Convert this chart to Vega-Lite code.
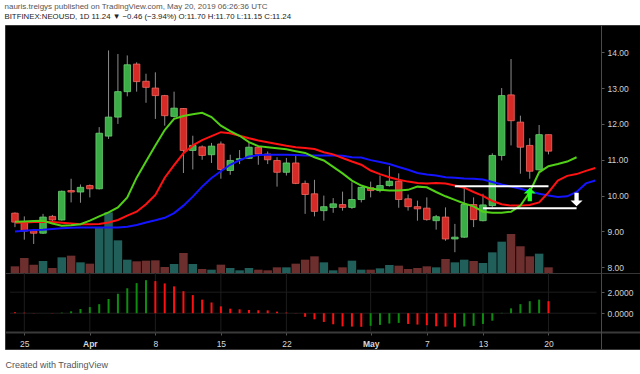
{
  "$schema": "https://vega.github.io/schema/vega-lite/v6.json",
  "background": "#ffffff",
  "padding": {"left": 4, "top": 2, "right": 0, "bottom": 0},
  "title": {
    "text": "nauris.treigys published on TradingView.com, May 20, 2019 06:26:36 UTC",
    "subtitle": "BITFINEX:NEOUSD, 1D 11.24 ▼ −0.46 (−3.94%) O:11.70 H:11.70 L:11.15 C:11.24",
    "anchor": "start",
    "font": "Liberation Sans",
    "fontSize": 8,
    "fontWeight": "normal",
    "color": "#555555",
    "subtitleFont": "Liberation Sans",
    "subtitleFontSize": 7.8,
    "subtitleFontWeight": "normal",
    "subtitleColor": "#222222",
    "subtitlePadding": 2,
    "offset": 4
  },
  "datasets": {
    "candles": [
      {"date":"2019-03-24","o":9.51,"h":9.53,"l":9.12,"c":9.26,"v":20000,"ao":0.09},
      {"date":"2019-03-25","o":9.26,"h":9.42,"l":8.77,"c":9.01,"v":45000,"ao":0.05},
      {"date":"2019-03-26","o":9.02,"h":9.03,"l":8.65,"c":8.95,"v":25000,"ao":0.02},
      {"date":"2019-03-27","o":8.95,"h":9.49,"l":8.93,"c":9.40,"v":36000,"ao":0.0},
      {"date":"2019-03-28","o":9.42,"h":9.46,"l":9.27,"c":9.32,"v":15000,"ao":-0.02},
      {"date":"2019-03-29","o":9.32,"h":10.14,"l":9.30,"c":10.12,"v":47000,"ao":0.05},
      {"date":"2019-03-30","o":10.14,"h":10.47,"l":9.81,"c":10.10,"v":52000,"ao":0.18},
      {"date":"2019-03-31","o":10.10,"h":10.31,"l":9.80,"c":10.23,"v":32000,"ao":0.40},
      {"date":"2019-04-01","o":10.28,"h":10.31,"l":9.95,"c":10.19,"v":28000,"ao":0.58},
      {"date":"2019-04-02","o":10.19,"h":11.91,"l":10.17,"c":11.74,"v":138000,"ao":0.86},
      {"date":"2019-04-03","o":11.66,"h":14.05,"l":11.58,"c":12.19,"v":182000,"ao":1.35},
      {"date":"2019-04-04","o":12.19,"h":13.95,"l":12.00,"c":12.90,"v":98000,"ao":1.85},
      {"date":"2019-04-05","o":12.90,"h":13.91,"l":12.77,"c":13.65,"v":40000,"ao":2.37},
      {"date":"2019-04-06","o":13.67,"h":13.72,"l":12.90,"c":13.18,"v":35000,"ao":2.86},
      {"date":"2019-04-07","o":13.19,"h":13.40,"l":12.59,"c":13.02,"v":37000,"ao":3.14},
      {"date":"2019-04-08","o":13.00,"h":13.44,"l":12.14,"c":12.79,"v":38000,"ao":3.05},
      {"date":"2019-04-09","o":12.79,"h":12.81,"l":11.95,"c":12.23,"v":18000,"ao":2.83},
      {"date":"2019-04-10","o":12.21,"h":12.90,"l":12.18,"c":12.44,"v":27000,"ao":2.55},
      {"date":"2019-04-11","o":12.43,"h":12.44,"l":10.63,"c":11.26,"v":60000,"ao":2.09},
      {"date":"2019-04-12","o":11.26,"h":11.67,"l":10.73,"c":11.40,"v":27000,"ao":1.72},
      {"date":"2019-04-13","o":11.36,"h":11.40,"l":11.00,"c":11.12,"v":12000,"ao":1.29},
      {"date":"2019-04-14","o":11.14,"h":11.47,"l":10.91,"c":11.38,"v":10000,"ao":1.02},
      {"date":"2019-04-15","o":11.44,"h":11.51,"l":10.47,"c":10.73,"v":25000,"ao":0.65},
      {"date":"2019-04-16","o":10.70,"h":11.14,"l":10.58,"c":10.98,"v":15000,"ao":0.43},
      {"date":"2019-04-17","o":11.00,"h":11.27,"l":10.88,"c":11.03,"v":8000,"ao":0.37},
      {"date":"2019-04-18","o":11.04,"h":11.49,"l":11.02,"c":11.35,"v":15000,"ao":0.31},
      {"date":"2019-04-19","o":11.35,"h":11.38,"l":10.86,"c":11.16,"v":10000,"ao":0.28},
      {"date":"2019-04-20","o":11.16,"h":11.23,"l":10.88,"c":11.00,"v":8000,"ao":0.27},
      {"date":"2019-04-21","o":10.98,"h":11.07,"l":10.25,"c":10.65,"v":17000,"ao":0.15},
      {"date":"2019-04-22","o":10.65,"h":11.05,"l":10.56,"c":10.91,"v":17000,"ao":0.06},
      {"date":"2019-04-23","o":10.91,"h":11.16,"l":10.32,"c":10.34,"v":28000,"ao":0.02},
      {"date":"2019-04-24","o":10.34,"h":10.42,"l":9.49,"c":10.03,"v":40000,"ao":-0.34},
      {"date":"2019-04-25","o":10.05,"h":10.44,"l":9.42,"c":9.56,"v":50000,"ao":-0.58},
      {"date":"2019-04-26","o":9.58,"h":10.00,"l":9.30,"c":9.69,"v":32000,"ao":-0.83},
      {"date":"2019-04-27","o":9.67,"h":9.93,"l":9.52,"c":9.77,"v":8000,"ao":-1.05},
      {"date":"2019-04-28","o":9.75,"h":10.11,"l":9.58,"c":9.67,"v":17000,"ao":-1.25},
      {"date":"2019-04-29","o":9.67,"h":10.37,"l":9.63,"c":9.89,"v":37000,"ao":-1.27},
      {"date":"2019-04-30","o":9.89,"h":10.24,"l":9.81,"c":10.23,"v":10000,"ao":-1.29},
      {"date":"2019-05-01","o":10.22,"h":10.39,"l":9.95,"c":10.14,"v":10000,"ao":-1.20},
      {"date":"2019-05-02","o":10.14,"h":10.56,"l":10.09,"c":10.28,"v":14000,"ao":-1.11},
      {"date":"2019-05-03","o":10.28,"h":10.82,"l":10.25,"c":10.40,"v":24000,"ao":-0.98},
      {"date":"2019-05-04","o":10.40,"h":10.62,"l":9.66,"c":9.89,"v":22000,"ao":-0.92},
      {"date":"2019-05-05","o":9.91,"h":10.03,"l":9.58,"c":9.69,"v":12000,"ao":-1.02},
      {"date":"2019-05-06","o":9.69,"h":9.86,"l":9.30,"c":9.63,"v":15000,"ao":-1.08},
      {"date":"2019-05-07","o":9.65,"h":9.95,"l":9.30,"c":9.33,"v":20000,"ao":-1.14},
      {"date":"2019-05-08","o":9.30,"h":9.46,"l":9.05,"c":9.41,"v":17000,"ao":-1.24},
      {"date":"2019-05-09","o":9.40,"h":9.67,"l":8.74,"c":8.79,"v":42000,"ao":-1.27},
      {"date":"2019-05-10","o":8.79,"h":9.21,"l":8.42,"c":8.84,"v":32000,"ao":-1.35},
      {"date":"2019-05-11","o":8.84,"h":10.23,"l":8.82,"c":9.75,"v":40000,"ao":-1.26},
      {"date":"2019-05-12","o":9.75,"h":9.95,"l":9.12,"c":9.33,"v":36000,"ao":-1.20},
      {"date":"2019-05-13","o":9.30,"h":10.05,"l":9.28,"c":9.74,"v":30000,"ao":-1.02},
      {"date":"2019-05-14","o":9.72,"h":11.18,"l":9.67,"c":11.12,"v":62000,"ao":-0.71},
      {"date":"2019-05-15","o":11.12,"h":13.00,"l":10.98,"c":12.79,"v":94000,"ao":0.03},
      {"date":"2019-05-16","o":12.81,"h":13.81,"l":11.40,"c":12.09,"v":117000,"ao":0.46},
      {"date":"2019-05-17","o":12.05,"h":12.23,"l":10.61,"c":11.35,"v":80000,"ao":0.86},
      {"date":"2019-05-18","o":11.40,"h":11.60,"l":10.47,"c":10.68,"v":50000,"ao":1.14},
      {"date":"2019-05-19","o":10.72,"h":11.97,"l":10.70,"c":11.70,"v":58000,"ao":1.29},
      {"date":"2019-05-20","o":11.70,"h":11.70,"l":11.15,"c":11.24,"v":17000,"ao":1.14}
    ],
    "ma": [
      {"date":"2019-03-24","v":9.00,"s":"j"},{"date":"2019-03-25","v":9.02,"s":"j"},{"date":"2019-03-26","v":9.04,"s":"j"},{"date":"2019-03-27","v":9.05,"s":"j"},{"date":"2019-03-28","v":9.07,"s":"j"},{"date":"2019-03-29","v":9.09,"s":"j"},{"date":"2019-03-30","v":9.10,"s":"j"},{"date":"2019-03-31","v":9.11,"s":"j"},{"date":"2019-04-01","v":9.11,"s":"j"},{"date":"2019-04-02","v":9.11,"s":"j"},{"date":"2019-04-03","v":9.11,"s":"j"},{"date":"2019-04-04","v":9.11,"s":"j"},{"date":"2019-04-05","v":9.13,"s":"j"},{"date":"2019-04-06","v":9.18,"s":"j"},{"date":"2019-04-07","v":9.25,"s":"j"},{"date":"2019-04-08","v":9.31,"s":"j"},{"date":"2019-04-09","v":9.38,"s":"j"},{"date":"2019-04-10","v":9.51,"s":"j"},{"date":"2019-04-11","v":9.72,"s":"j"},{"date":"2019-04-12","v":9.97,"s":"j"},{"date":"2019-04-13","v":10.25,"s":"j"},{"date":"2019-04-14","v":10.49,"s":"j"},{"date":"2019-04-15","v":10.68,"s":"j"},{"date":"2019-04-16","v":10.86,"s":"j"},{"date":"2019-04-17","v":10.99,"s":"j"},{"date":"2019-04-18","v":11.09,"s":"j"},{"date":"2019-04-19","v":11.13,"s":"j"},{"date":"2019-04-20","v":11.14,"s":"j"},{"date":"2019-04-21","v":11.14,"s":"j"},{"date":"2019-04-22","v":11.14,"s":"j"},{"date":"2019-04-23","v":11.13,"s":"j"},{"date":"2019-04-24","v":11.12,"s":"j"},{"date":"2019-04-25","v":11.12,"s":"j"},{"date":"2019-04-26","v":11.12,"s":"j"},{"date":"2019-04-27","v":11.12,"s":"j"},{"date":"2019-04-28","v":11.11,"s":"j"},{"date":"2019-04-29","v":11.07,"s":"j"},{"date":"2019-04-30","v":11.06,"s":"j"},{"date":"2019-05-01","v":10.99,"s":"j"},{"date":"2019-05-02","v":10.94,"s":"j"},{"date":"2019-05-03","v":10.88,"s":"j"},{"date":"2019-05-04","v":10.80,"s":"j"},{"date":"2019-05-05","v":10.72,"s":"j"},{"date":"2019-05-06","v":10.63,"s":"j"},{"date":"2019-05-07","v":10.59,"s":"j"},{"date":"2019-05-08","v":10.56,"s":"j"},{"date":"2019-05-09","v":10.51,"s":"j"},{"date":"2019-05-10","v":10.50,"s":"j"},{"date":"2019-05-11","v":10.48,"s":"j"},{"date":"2019-05-12","v":10.47,"s":"j"},{"date":"2019-05-13","v":10.45,"s":"j"},{"date":"2019-05-14","v":10.38,"s":"j"},{"date":"2019-05-15","v":10.31,"s":"j"},{"date":"2019-05-16","v":10.25,"s":"j"},{"date":"2019-05-17","v":10.19,"s":"j"},{"date":"2019-05-18","v":10.12,"s":"j"},{"date":"2019-05-19","v":10.05,"s":"j"},{"date":"2019-05-20","v":10.00,"s":"j"},{"date":"2019-05-21","v":9.96,"s":"j"},{"date":"2019-05-22","v":9.98,"s":"j"},{"date":"2019-05-23","v":10.10,"s":"j"},{"date":"2019-05-24","v":10.34,"s":"j"},{"date":"2019-05-25","v":10.42,"s":"j"},
      {"date":"2019-03-24","v":9.24,"s":"t"},{"date":"2019-03-25","v":9.25,"s":"t"},{"date":"2019-03-26","v":9.26,"s":"t"},{"date":"2019-03-27","v":9.27,"s":"t"},{"date":"2019-03-28","v":9.26,"s":"t"},{"date":"2019-03-29","v":9.24,"s":"t"},{"date":"2019-03-30","v":9.22,"s":"t"},{"date":"2019-03-31","v":9.20,"s":"t"},{"date":"2019-04-01","v":9.20,"s":"t"},{"date":"2019-04-02","v":9.21,"s":"t"},{"date":"2019-04-03","v":9.25,"s":"t"},{"date":"2019-04-04","v":9.32,"s":"t"},{"date":"2019-04-05","v":9.44,"s":"t"},{"date":"2019-04-06","v":9.55,"s":"t"},{"date":"2019-04-07","v":9.76,"s":"t"},{"date":"2019-04-08","v":10.02,"s":"t"},{"date":"2019-04-09","v":10.50,"s":"t"},{"date":"2019-04-10","v":10.85,"s":"t"},{"date":"2019-04-11","v":11.18,"s":"t"},{"date":"2019-04-12","v":11.40,"s":"t"},{"date":"2019-04-13","v":11.55,"s":"t"},{"date":"2019-04-14","v":11.66,"s":"t"},{"date":"2019-04-15","v":11.77,"s":"t"},{"date":"2019-04-16","v":11.74,"s":"t"},{"date":"2019-04-17","v":11.67,"s":"t"},{"date":"2019-04-18","v":11.60,"s":"t"},{"date":"2019-04-19","v":11.54,"s":"t"},{"date":"2019-04-20","v":11.49,"s":"t"},{"date":"2019-04-21","v":11.44,"s":"t"},{"date":"2019-04-22","v":11.39,"s":"t"},{"date":"2019-04-23","v":11.35,"s":"t"},{"date":"2019-04-24","v":11.33,"s":"t"},{"date":"2019-04-25","v":11.30,"s":"t"},{"date":"2019-04-26","v":11.21,"s":"t"},{"date":"2019-04-27","v":11.15,"s":"t"},{"date":"2019-04-28","v":11.05,"s":"t"},{"date":"2019-04-29","v":10.95,"s":"t"},{"date":"2019-04-30","v":10.86,"s":"t"},{"date":"2019-05-01","v":10.70,"s":"t"},{"date":"2019-05-02","v":10.60,"s":"t"},{"date":"2019-05-03","v":10.51,"s":"t"},{"date":"2019-05-04","v":10.44,"s":"t"},{"date":"2019-05-05","v":10.39,"s":"t"},{"date":"2019-05-06","v":10.35,"s":"t"},{"date":"2019-05-07","v":10.34,"s":"t"},{"date":"2019-05-08","v":10.35,"s":"t"},{"date":"2019-05-09","v":10.34,"s":"t"},{"date":"2019-05-10","v":10.28,"s":"t"},{"date":"2019-05-11","v":10.22,"s":"t"},{"date":"2019-05-12","v":10.10,"s":"t"},{"date":"2019-05-13","v":9.99,"s":"t"},{"date":"2019-05-14","v":9.85,"s":"t"},{"date":"2019-05-15","v":9.76,"s":"t"},{"date":"2019-05-16","v":9.72,"s":"t"},{"date":"2019-05-17","v":9.72,"s":"t"},{"date":"2019-05-18","v":9.74,"s":"t"},{"date":"2019-05-19","v":9.81,"s":"t"},{"date":"2019-05-20","v":10.09,"s":"t"},{"date":"2019-05-21","v":10.42,"s":"t"},{"date":"2019-05-22","v":10.55,"s":"t"},{"date":"2019-05-23","v":10.60,"s":"t"},{"date":"2019-05-24","v":10.69,"s":"t"},{"date":"2019-05-25","v":10.77,"s":"t"},
      {"date":"2019-03-24","v":9.27,"s":"l"},{"date":"2019-03-25","v":9.28,"s":"l"},{"date":"2019-03-26","v":9.29,"s":"l"},{"date":"2019-03-27","v":9.30,"s":"l"},{"date":"2019-03-28","v":9.22,"s":"l"},{"date":"2019-03-29","v":9.16,"s":"l"},{"date":"2019-03-30","v":9.17,"s":"l"},{"date":"2019-03-31","v":9.20,"s":"l"},{"date":"2019-04-01","v":9.30,"s":"l"},{"date":"2019-04-02","v":9.42,"s":"l"},{"date":"2019-04-03","v":9.53,"s":"l"},{"date":"2019-04-04","v":9.67,"s":"l"},{"date":"2019-04-05","v":9.95,"s":"l"},{"date":"2019-04-06","v":10.50,"s":"l"},{"date":"2019-04-07","v":10.95,"s":"l"},{"date":"2019-04-08","v":11.40,"s":"l"},{"date":"2019-04-09","v":11.83,"s":"l"},{"date":"2019-04-10","v":12.14,"s":"l"},{"date":"2019-04-11","v":12.22,"s":"l"},{"date":"2019-04-12","v":12.27,"s":"l"},{"date":"2019-04-13","v":12.31,"s":"l"},{"date":"2019-04-14","v":12.19,"s":"l"},{"date":"2019-04-15","v":11.95,"s":"l"},{"date":"2019-04-16","v":11.80,"s":"l"},{"date":"2019-04-17","v":11.67,"s":"l"},{"date":"2019-04-18","v":11.49,"s":"l"},{"date":"2019-04-19","v":11.38,"s":"l"},{"date":"2019-04-20","v":11.35,"s":"l"},{"date":"2019-04-21","v":11.32,"s":"l"},{"date":"2019-04-22","v":11.29,"s":"l"},{"date":"2019-04-23","v":11.24,"s":"l"},{"date":"2019-04-24","v":11.19,"s":"l"},{"date":"2019-04-25","v":11.07,"s":"l"},{"date":"2019-04-26","v":10.98,"s":"l"},{"date":"2019-04-27","v":10.80,"s":"l"},{"date":"2019-04-28","v":10.62,"s":"l"},{"date":"2019-04-29","v":10.42,"s":"l"},{"date":"2019-04-30","v":10.28,"s":"l"},{"date":"2019-05-01","v":10.20,"s":"l"},{"date":"2019-05-02","v":10.16,"s":"l"},{"date":"2019-05-03","v":10.14,"s":"l"},{"date":"2019-05-04","v":10.14,"s":"l"},{"date":"2019-05-05","v":10.16,"s":"l"},{"date":"2019-05-06","v":10.25,"s":"l"},{"date":"2019-05-07","v":10.23,"s":"l"},{"date":"2019-05-08","v":10.10,"s":"l"},{"date":"2019-05-09","v":9.98,"s":"l"},{"date":"2019-05-10","v":9.88,"s":"l"},{"date":"2019-05-11","v":9.78,"s":"l"},{"date":"2019-05-12","v":9.70,"s":"l"},{"date":"2019-05-13","v":9.55,"s":"l"},{"date":"2019-05-14","v":9.52,"s":"l"},{"date":"2019-05-15","v":9.52,"s":"l"},{"date":"2019-05-16","v":9.55,"s":"l"},{"date":"2019-05-17","v":9.72,"s":"l"},{"date":"2019-05-18","v":10.10,"s":"l"},{"date":"2019-05-19","v":10.65,"s":"l"},{"date":"2019-05-20","v":10.82,"s":"l"},{"date":"2019-05-21","v":10.88,"s":"l"},{"date":"2019-05-22","v":10.95,"s":"l"},{"date":"2019-05-23","v":11.07,"s":"l"}
    ],
    "ticks": [
      {"date":"2019-03-25"},{"date":"2019-04-01"},{"date":"2019-04-08"},{"date":"2019-04-15"},{"date":"2019-04-22"},{"date":"2019-05-01"},{"date":"2019-05-07"},{"date":"2019-05-13"},{"date":"2019-05-20"}
    ]
  },
  "spacing": 0,
  "bounds": "flush",
  "vconcat": [
    {
      "width": 636,
      "height": 248,
      "encoding": {
        "x": {"field": "date", "type": "temporal",
          "scale": {"type": "utc", "domain": [{"year":2019,"month":3,"date":23,"hours":11,"minutes":17,"utc":true},{"year":2019,"month":5,"date":29,"hours":8,"minutes":24,"utc":true}]},
          "axis": null}
      },
      "layer": [
        {
          "data": {"name": "candles"},
          "mark": {"type": "bar", "size": 8.5},
          "encoding": {
            "x": {"field": "date", "type": "temporal",
              "scale": {"type": "utc", "domain": [{"year":2019,"month":3,"date":23,"hours":11,"minutes":17,"utc":true},{"year":2019,"month":5,"date":29,"hours":8,"minutes":24,"utc":true}]},
              "axis": {"values": [{"year":2019,"month":3,"date":25,"utc":true},{"year":2019,"month":4,"date":1,"utc":true},{"year":2019,"month":4,"date":8,"utc":true},{"year":2019,"month":4,"date":15,"utc":true},{"year":2019,"month":4,"date":22,"utc":true},{"year":2019,"month":5,"date":1,"utc":true},{"year":2019,"month":5,"date":7,"utc":true},{"year":2019,"month":5,"date":13,"utc":true},{"year":2019,"month":5,"date":20,"utc":true}],
                "labels": false, "ticks": false, "domain": false, "grid": true, "gridColor": "#1d1d1d", "title": null}},
            "y": {"field": "v", "type": "quantitative", "scale": {"domain": [0, 744000], "nice": false}, "axis": null},
            "color": {"condition": {"test": "datum.c >= datum.o", "value": "#215f5a"}, "value": "#6d2e2e"}
          }
        },
        {
          "data": {"values": [{"p":8},{"p":9},{"p":10},{"p":11},{"p":12},{"p":13},{"p":14}]},
          "mark": {"type": "rule", "color": "#1d1d1d", "strokeWidth": 1},
          "encoding": {
            "x": {"datum": {"year":2019,"month":3,"date":23,"hours":11,"minutes":17,"utc":true}, "type": "temporal", "axis": null},
            "x2": {"datum": {"year":2019,"month":5,"date":25,"hours":3,"minutes":20,"utc":true}},
            "y": {"field": "p", "type": "quantitative", "scale": {"domain": [7.84, 14.76], "nice": false, "zero": false},
              "axis": {"orient": "right", "offset": -40, "values": [8,9,10,11,12,13,14], "format": ".2f", "grid": false, "title": null,
                "tickSize": 3, "tickColor": "#5a5a5a", "domain": true, "domainColor": "#4a4a4a", "labelColor": "#d0d0d0", "labelFontSize": 8.5, "labelPadding": 3}}
          }
        },
        {
          "data": {"values": [{"p":11.24}]},
          "mark": {"type": "rule", "color": "#5c1414", "strokeWidth": 1},
          "encoding": {
            "x": {"datum": {"year":2019,"month":3,"date":23,"hours":11,"minutes":17,"utc":true}, "type": "temporal", "axis": null},
            "x2": {"datum": {"year":2019,"month":5,"date":25,"hours":3,"minutes":20,"utc":true}},
            "y": {"field": "p", "type": "quantitative", "scale": {"domain": [7.84, 14.76], "nice": false, "zero": false}, "axis": null}
          }
        },
        {
          "data": {"name": "candles"},
          "mark": {"type": "rule", "color": "#8c8c8c", "strokeWidth": 1},
          "encoding": {
            "y": {"field": "l", "type": "quantitative", "scale": {"domain": [7.84, 14.76], "nice": false, "zero": false}, "axis": null},
            "y2": {"field": "h"}
          }
        },
        {
          "data": {"name": "candles"},
          "mark": {"type": "bar", "size": 6.5, "strokeWidth": 0.8},
          "encoding": {
            "y": {"field": "o", "type": "quantitative", "scale": {"domain": [7.84, 14.76], "nice": false, "zero": false}, "axis": null},
            "y2": {"field": "c"},
            "fill": {"condition": {"test": "datum.c >= datum.o", "value": "#3aad46"}, "value": "#d62a27"},
            "stroke": {"condition": {"test": "datum.c >= datum.o", "value": "#6ccf72"}, "value": "#f06a62"}
          }
        },
        {
          "data": {"name": "ma"},
          "transform": [{"filter": "datum.s == 'j'"}],
          "mark": {"type": "line", "color": "#1414ff", "strokeWidth": 2},
          "encoding": {
            "y": {"field": "v", "type": "quantitative", "scale": {"domain": [7.84, 14.76], "nice": false, "zero": false}, "axis": null}
          }
        },
        {
          "data": {"name": "ma"},
          "transform": [{"filter": "datum.s == 't'"}],
          "mark": {"type": "line", "color": "#ff1212", "strokeWidth": 2},
          "encoding": {
            "y": {"field": "v", "type": "quantitative", "scale": {"domain": [7.84, 14.76], "nice": false, "zero": false}, "axis": null}
          }
        },
        {
          "data": {"name": "ma"},
          "transform": [{"filter": "datum.s == 'l'"}],
          "mark": {"type": "line", "color": "#52d018", "strokeWidth": 2},
          "encoding": {
            "y": {"field": "v", "type": "quantitative", "scale": {"domain": [7.84, 14.76], "nice": false, "zero": false}, "axis": null}
          }
        },
        {
          "data": {"values": [{"date":"2019-05-10","date2":"2019-05-20","p":10.26},{"date":"2019-05-13","date2":"2019-05-23","p":9.65}]},
          "mark": {"type": "rule", "color": "#ffffff", "strokeWidth": 2},
          "encoding": {
            "x2": {"field": "date2"},
            "y": {"field": "p", "type": "quantitative", "scale": {"domain": [7.84, 14.76], "nice": false, "zero": false}, "axis": null}
          }
        },
        {
          "data": {"values": [{"date":"2019-05-18","p":10.03}]},
          "mark": {"type": "point", "shape": "M0,-1L0.9,-0.15L0.32,-0.15L0.32,1L-0.32,1L-0.32,-0.15L-0.9,-0.15Z", "filled": true, "color": "#22ff22", "size": 180, "opacity": 1},
          "encoding": {
            "y": {"field": "p", "type": "quantitative", "scale": {"domain": [7.84, 14.76], "nice": false, "zero": false}, "axis": null}
          }
        },
        {
          "data": {"values": [{"date":"2019-05-23","p":9.89}]},
          "mark": {"type": "point", "shape": "M0,1L0.9,0.15L0.32,0.15L0.32,-1L-0.32,-1L-0.32,0.15L-0.9,0.15Z", "filled": true, "color": "#ffffff", "size": 180, "opacity": 1},
          "encoding": {
            "y": {"field": "p", "type": "quantitative", "scale": {"domain": [7.84, 14.76], "nice": false, "zero": false}, "axis": null}
          }
        },
        {
          "data": {"values": [{"p":11.24}]},
          "mark": {"type": "point", "shape": "M-1,-0.38L1,-0.38L1,0.38L-1,0.38Z", "filled": true, "color": "#c92a26", "size": 900, "opacity": 1},
          "encoding": {
            "x": {"datum": {"year":2019,"month":5,"date":26,"hours":17,"minutes":17,"utc":true}, "type": "temporal", "axis": null},
            "y": {"field": "p", "type": "quantitative", "scale": {"domain": [7.84, 14.76], "nice": false, "zero": false}, "axis": null}
          }
        },
        {
          "data": {"values": [{"p":11.24}]},
          "mark": {"type": "text", "color": "#ffffff", "fontSize": 8.5, "fontWeight": "bold", "align": "center", "baseline": "middle", "font": "Liberation Sans"},
          "encoding": {
            "x": {"datum": {"year":2019,"month":5,"date":26,"hours":17,"minutes":17,"utc":true}, "type": "temporal", "axis": null},
            "y": {"field": "p", "type": "quantitative", "scale": {"domain": [7.84, 14.76], "nice": false, "zero": false}, "axis": null},
            "text": {"field": "p", "type": "quantitative", "format": ".2f"}
          }
        }
      ],
      "resolve": {"scale": {"y": "independent"}, "axis": {"y": "independent"}}
    },
    {
      "width": 636,
      "height": 76,
      "layer": [
        {
          "data": {"name": "ticks"},
          "mark": {"type": "rule", "color": "#1d1d1d", "strokeWidth": 1},
          "encoding": {
            "x": {"field": "date", "type": "temporal",
              "scale": {"type": "utc", "domain": [{"year":2019,"month":3,"date":23,"hours":11,"minutes":17,"utc":true},{"year":2019,"month":5,"date":29,"hours":8,"minutes":24,"utc":true}]},
              "axis": {"orient": "bottom", "offset": -17,
                "values": [{"year":2019,"month":3,"date":25,"utc":true},{"year":2019,"month":4,"date":1,"utc":true},{"year":2019,"month":4,"date":8,"utc":true},{"year":2019,"month":4,"date":15,"utc":true},{"year":2019,"month":4,"date":22,"utc":true},{"year":2019,"month":5,"date":1,"utc":true},{"year":2019,"month":5,"date":7,"utc":true},{"year":2019,"month":5,"date":13,"utc":true},{"year":2019,"month":5,"date":20,"utc":true}],
                "labelExpr": "utcdate(datum.value) == 1 ? utcFormat(datum.value, '%b') : utcFormat(datum.value, '%-d')",
                "labelFontWeight": {"condition": {"test": "utcdate(datum.value) == 1", "value": "bold"}, "value": "normal"},
                "labelColor": "#d8d8d8", "labelFontSize": 8.5, "labelPadding": 4, "labelFlush": false,
                "tickSize": 3, "tickColor": "#555555", "domain": true, "domainColor": "#3a3a3a", "domainWidth": 2, "grid": false,
                "title": "Created with TradingView", "titleAnchor": "start", "titleAlign": "left", "titleColor": "#555555",
                "titleFontSize": 9, "titleFontWeight": "normal", "titlePadding": 13}},
            "y": {"datum": -1.785, "type": "quantitative", "scale": {"domain": [-3.40, 3.82], "nice": false, "zero": false},
              "axis": {"orient": "right", "offset": -40, "values": [0, 2], "format": ".4f", "grid": false, "title": null,
                "tickSize": 3, "tickColor": "#5a5a5a", "domain": true, "domainColor": "#4a4a4a", "labelColor": "#d0d0d0", "labelFontSize": 8.5, "labelPadding": 3}},
            "y2": {"datum": 3.82}
          }
        },
        {
          "data": {"values": [{"p":0},{"p":2}]},
          "mark": {"type": "rule", "color": "#1d1d1d", "strokeWidth": 1},
          "encoding": {
            "x": {"datum": {"year":2019,"month":3,"date":23,"hours":11,"minutes":17,"utc":true}, "type": "temporal", "axis": null},
            "x2": {"datum": {"year":2019,"month":5,"date":25,"hours":3,"minutes":20,"utc":true}},
            "y": {"field": "p", "type": "quantitative", "scale": {"domain": [-3.40, 3.82], "nice": false, "zero": false}, "axis": null}
          }
        },
        {
          "data": {"name": "candles"},
          "transform": [{"window": [{"op": "lag", "field": "ao", "as": "prev"}]}],
          "mark": {"type": "bar", "size": 2},
          "encoding": {
            "x": {"field": "date", "type": "temporal", "axis": null},
            "y": {"field": "ao", "type": "quantitative", "scale": {"domain": [-3.40, 3.82], "nice": false, "zero": false}, "axis": null},
            "y2": {"datum": 0},
            "color": {"condition": {"test": "datum.prev != null && datum.ao > datum.prev", "value": "#0e8c10"}, "value": "#ff1010"}
          }
        }
      ],
      "resolve": {"axis": {"x": "independent", "y": "independent"}}
    }
  ],
  "config": {
    "view": {"fill": "#000000", "stroke": "#363636", "strokeWidth": 1},
    "axis": {"labelFont": "Liberation Sans", "titleFont": "Liberation Sans"},
    "text": {"font": "Liberation Sans"}
  }
}
